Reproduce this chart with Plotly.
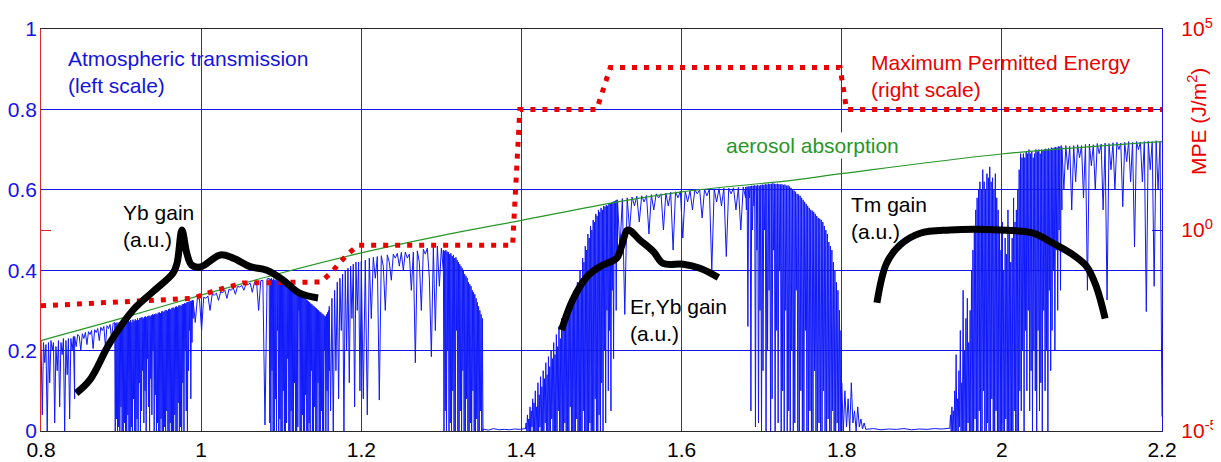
import numpy as np
import plotly.graph_objects as go

# ---------------- data ----------------
# Atmospheric transmission (left scale), band by band: (start wl, end wl, values)
T_a = [0.225,0.04,0.22,0.17,0.215,0.0,0.22,0.12,0.225,0.2,0.22,0.02,0.21,0.15,0.225,0.06,
       0.22,0.19,0.23,0.0,0.225,0.14,0.23,0.03,0.23,0.2,0.235,0.08]
T_b = [0.235,0.21,0.24,0.236,0.2,0.242,0.23,0.245,0.215,0.247,0.24,0.25,0.205,0.252,0.245,
       0.255,0.225,0.258,0.25,0.26,0.21,0.262,0.255,0.265,0.23,0.268,0.27]
T_c = [0.27,0.0,0.268,0.03,0.27,0.0,0.266,0.01,0.271,0.0,0.262,0.06,0.272,0.0,0.27,0.0,0.273,0.02,0.268,0.0,
       0.274,0.0,0.27,0.04,0.275,0.0,0.272,0.0,0.276,0.01,0.27,0.0,0.277,0.08,0.274,0.0,0.278,0.0,0.275,0.03,
       0.28,0.0,0.276,0.12,0.281,0.0,0.282,0.05,0.283,0.15,0.28,0.02,0.284,0.1,0.285,0.0,0.283,0.18,0.286,0.06,
       0.287,0.0,0.285,0.13,0.288,0.04,0.29,0.2,0.289,0.0,0.291,0.09,0.292,0.0,0.29,0.02,0.294,0.0,0.295,0.0,
       0.293,0.03,0.297,0.0,0.298,0.0,0.296,0.01,0.3,0.0,0.301,0.05,0.299,0.0,0.303,0.0,0.304,0.02,0.302,0.0,
       0.306,0.0,0.307,0.0,0.305,0.04,0.309,0.0,0.31,0.0,0.308,0.07,0.312,0.0,0.313,0.01,0.311,0.0,0.315,0.12,
       0.316,0.0,0.318,0.2,0.317,0.05,0.32,0.0,0.321,0.15,0.322,0.25,0.323,0.08,0.324,0.22,0.325,0.28]
T_d = [0.325,0.27,0.33,0.328,0.25,0.333,0.33,0.336,0.3,0.34,0.338,0.343,0.325,0.346,0.344,0.35,
       0.33,0.353,0.35,0.356,0.34,0.36,0.358,0.362,0.35,0.366,0.364,0.368,0.345,0.37,0.372,0.3,
       0.374,0.375,0.015,0.378,0.38]
T_e = [0.38,0.02,0.378,0.0,0.38,0.15,0.376,0.0,0.379,0.0,0.375,0.08,0.377,0.0,0.374,0.25,0.376,0.0,0.372,0.03,
       0.374,0.0,0.37,0.0,0.372,0.1,0.368,0.0,0.37,0.0,0.366,0.02,0.367,0.18,0.362,0.0,0.364,0.0,0.36,0.05,
       0.358,0.0,0.355,0.0,0.356,0.12,0.352,0.0,0.35,0.0,0.347,0.01,0.345,0.3,0.342,0.0,0.34,0.0,0.337,0.04,
       0.335,0.0,0.332,0.0,0.33,0.09,0.327,0.0,0.325,0.0,0.322,0.02,0.32,0.0,0.317,0.15,0.315,0.0,0.312,0.0,
       0.31,0.06,0.307,0.0,0.305,0.0,0.302,0.12,0.3,0.0,0.297,0.0,0.295,0.05,0.292,0.0,0.29,0.0,0.287,0.2,
       0.285,0.0,0.29,0.1,0.295,0.0,0.3,0.15]
T_f = [0.31,0.05,0.33,0.0,0.35,0.15,0.37,0.08,0.38,0.25,0.39,0.0,0.4,0.2,0.405,0.12,0.41,0.28,
       0.415,0.06,0.42,0.3,0.42,0.1,0.422]
T_g = [0.42,0.08,0.425,0.04,0.43,0.28,0.432,0.38,0.434,0.077,0.436,0.41,0.3,0.438,0.42,0.375,
       0.44,0.43,0.442,0.41,0.444,0.4,0.445,0.43,0.44,0.35,0.445,0.17,0.448,0.42,0.3,0.452,0.44,
       0.455,0.38,0.185,0.457,0.25,0.46,0.36,0.455,0.4]
T_h = [0.45,0.0,0.448,0.05,0.45,0.0,0.446,0.2,0.445,0.0,0.44,0.02,0.442,0.0,0.435,0.1,0.438,0.0,0.43,0.0,
       0.432,0.25,0.425,0.0,0.42,0.0,0.415,0.05,0.41,0.0,0.405,0.15,0.4,0.0,0.39,0.0,0.385,0.08,0.38,0.0,
       0.37,0.0,0.365,0.02,0.36,0.0,0.35,0.1,0.345,0.0,0.34,0.0,0.33,0.03,0.32,0.0,0.31,0.0,0.3,0.05,
       0.29,0.0,0.28,0.0]
T_i = [0.005,0.002,0.006,0.003,0.004,0.003,0.005,0.004,0.006]
T_j = [0.005,0.02,0.0,0.04,0.0,0.03,0.0,0.06,0.0,0.05,0.01,0.08,0.0,0.07,0.0,0.1,0.0,0.06,0.0,0.12,
       0.0,0.09,0.01,0.135,0.0,0.11,0.0,0.15,0.0,0.13,0.02,0.17,0.0,0.14,0.0,0.185,0.0,0.16,0.0,0.2,
       0.03,0.18,0.0,0.22,0.0,0.19,0.0,0.24,0.0,0.21,0.05,0.26,0.0,0.23,0.0,0.28,0.0,0.25,0.0,0.29,
       0.02,0.27,0.0,0.31,0.0,0.28,0.0,0.32,0.06,0.3,0.0,0.33,0.0,0.31,0.0,0.35,0.0,0.34,0.03,0.37,
       0.0,0.36,0.0,0.4,0.0,0.38,0.0,0.43,0.05,0.42,0.0,0.46,0.0,0.45,0.0,0.49,0.0,0.48,0.02,0.51,
       0.0,0.5,0.0,0.525,0.0,0.52,0.08,0.54,0.0,0.535,0.0,0.55,0.04,0.545,0.0,0.555,0.12,0.55,0.0,0.56,
       0.2,0.558,0.02,0.562,0.3,0.56,0.1,0.565,0.25,0.567,0.05,0.568,0.35,0.57,0.18,0.572,0.42,0.573,0.3,0.575,0.45]
T_k = [0.575,0.45,0.578,0.29,0.58,0.5,0.582,0.56,0.584,0.52,0.585,0.57,0.586,0.49,0.588,0.55,
       0.59,0.58,0.59,0.5,0.592,0.56,0.594,0.45,0.595,0.58,0.596,0.48,0.597,0.57,0.598,0.55,0.6,
       0.59,0.6,0.53,0.601,0.585,0.602,0.4,0.602,0.57,0.603,0.56,0.604,0.434,0.604,0.59,0.605,
       0.55,0.606,0.5,0.607,0.58]
T_l = [0.607,0.55,0.608,0.26,0.608,0.58,0.609,0.05,0.61,0.5,0.61,0.56,0.611,0.01,0.61,0.45,0.612,0.02,0.61,
       0.3,0.612,0.0,0.613,0.15,0.612,0.5,0.614,0.0,0.613,0.2,0.615,0.35,0.614,0.0,0.615,0.08,0.616,0.45,0.615,
       0.0,0.614,0.25,0.615,0.02,0.614,0.4,0.613,0.0,0.614,0.1,0.612,0.0,0.613,0.3,0.61,0.0,0.611,0.05,0.608,
       0.0,0.605,0.2,0.6,0.0,0.598,0.02,0.595,0.35,0.59,0.0,0.588,0.0,0.585,0.1,0.58,0.0,0.575,0.0,0.57,
       0.25,0.565,0.0,0.56,0.0,0.555,0.05,0.55,0.0,0.548,0.0,0.545,0.15,0.54,0.0,0.535,0.0,0.53,0.02,0.528,
       0.0,0.525,0.0,0.52,0.1,0.51,0.0,0.5,0.0,0.49,0.03,0.47,0.0,0.46,0.0,0.45,0.05,0.42,0.0,0.4,
       0.0,0.37,0.02,0.35,0.0,0.3,0.0,0.25,0.0]
T_m = [0.12,0.0,0.1,0.01,0.08,0.0,0.12,0.02,0.05,0.0,0.06,0.01,0.03,0.005,0.02,0.004]
T_n = [0.004,0.006,0.003,0.005,0.004,0.006,0.003,0.005,0.004,0.006,0.005,0.007]
T_o = [0.01,0.04,0.0,0.06,0.0,0.05,0.0,0.1,0.0,0.19,0.0,0.08,0.0,0.15,0.01,0.25,0.0,0.12,0.0,0.35,
       0.0,0.2,0.0,0.28,0.0,0.33,0.02,0.22,0.0,0.3,0.0,0.4,0.0,0.45,0.0,0.5,0.03,0.55,0.0,0.58,
       0.0,0.6,0.05,0.62,0.0,0.6,0.0,0.65,0.1,0.62,0.0,0.6,0.0,0.64,0.02,0.63,0.0,0.657,0.0,0.62,
       0.08,0.63,0.0,0.6,0.0,0.64,0.05,0.58,0.0,0.55,0.0,0.5,0.0,0.45,0.02,0.52,0.0,0.4,0.0,0.48,
       0.03,0.44,0.0,0.55,0.0,0.5,0.0,0.42,0.0,0.48,0.0,0.58,0.05,0.52,0.0,0.55,0.0,0.6,0.0,0.65,
       0.1,0.69,0.05,0.68,0.2,0.69,0.0,0.68,0.25,0.695,0.1,0.69,0.3,0.7,0.05,0.69,0.15,0.695,0.0,0.68,
       0.2,0.69,0.1,0.7,0.0,0.695,0.25,0.7,0.05,0.69,0.12,0.7,0.0,0.698,0.3,0.7,0.1,0.702,0.2,0.7,
       0.0,0.703,0.35,0.7,0.15,0.705,0.25,0.703,0.4,0.705,0.2,0.706,0.45,0.705,0.3,0.708,0.5,0.707,0.35,0.71,0.55]
T_p = [0.705,0.6,0.71,0.65,0.708,0.55,0.71,0.62,0.712,0.68,0.71,0.58,0.713,0.35,0.714,0.66,
       0.712,0.6,0.715,0.69,0.714,0.55,0.716,0.326,0.715,0.65,0.717,0.6,0.718,0.7,0.716,0.558,
       0.718,0.67,0.72,0.62,0.718,0.458,0.72,0.7,0.719,0.62,0.72,0.297,0.721,0.65,0.72,0.36,
       0.722,0.6,0.72,0.036]
BANDS = [(0.800, 0.842, T_a), (0.842, 0.892, T_b), (0.892, 0.990, T_c), (0.990, 1.085, T_d),
         (1.085, 1.160, T_e), (1.160, 1.200, T_f), (1.200, 1.3025, T_g), (1.3025, 1.352, T_h),
         (1.352, 1.405, T_i), (1.405, 1.520, T_j), (1.520, 1.680, T_k), (1.680, 1.800, T_l),
         (1.800, 1.830, T_m), (1.830, 1.935, T_n), (1.935, 2.075, T_o), (2.075, 2.200, T_p)]

# Aerosol absorption (left scale)
aer_wl = [0.8, 0.9, 1.0, 1.1, 1.2, 1.3, 1.4, 1.52, 1.6, 1.74, 1.8, 2.0, 2.2]
aer_T = [0.225, 0.28, 0.338, 0.393, 0.443, 0.486, 0.524, 0.57, 0.595, 0.624, 0.64, 0.689, 0.72]

# Maximum permitted energy (right scale, J/m^2)
mpe_wl = [0.8, 0.99, 1.015, 1.052, 1.15, 1.163, 1.182, 1.196, 1.389, 1.398, 1.494, 1.511, 1.798, 1.806, 2.2]
mpe_val = [0.013, 0.02, 0.03, 0.048, 0.051, 0.09, 0.24, 0.42, 0.42, 1000, 1000, 11000, 11000, 1000, 1000]

# Gain curves (a.u., left scale)
yb_wl = [0.844, 0.861, 0.886, 0.915, 0.94, 0.965, 0.97, 0.976, 0.982, 0.988, 0.999, 1.024, 1.04,
         1.061, 1.082, 1.102, 1.123, 1.146]
yb_g = [0.094, 0.127, 0.219, 0.301, 0.347, 0.393, 0.418, 0.5, 0.443, 0.413, 0.408, 0.438, 0.43,
        0.409, 0.40, 0.376, 0.343, 0.331]
eryb_wl = [1.45, 1.464, 1.482, 1.498, 1.519, 1.525, 1.533, 1.548, 1.565, 1.577, 1.602, 1.623, 1.646]
eryb_g = [0.251, 0.326, 0.384, 0.409, 0.43, 0.459, 0.5, 0.475, 0.446, 0.417, 0.415, 0.405, 0.382]
tm_wl = [1.844, 1.856, 1.873, 1.898, 1.935, 1.998, 2.039, 2.064, 2.089, 2.106, 2.118, 2.129]
tm_g = [0.319, 0.417, 0.463, 0.492, 0.5, 0.5, 0.492, 0.467, 0.438, 0.409, 0.359, 0.28]

x_ticks = [0.8, 1.0, 1.2, 1.4, 1.6, 1.8, 2.0, 2.2]
x_ticktext = ["0.8", "1", "1.2", "1.4", "1.6", "1.8", "2", "2.2"]
yl_ticks = [0, 0.2, 0.4, 0.6, 0.8, 1.0]
yl_ticktext = ["0", "0.2", "0.4", "0.6", "0.8", "1"]
yr_ticks = [1e-5, 1, 1e5]
yr_ticktext = ["10<sup>-5</sup>", "10<sup>0</sup>", "10<sup>5</sup>"]

# ---------------- figure ----------------
wl = np.concatenate([np.linspace(a, b, len(v)) for a, b, v in BANDS])
tr = np.concatenate([np.array(v, dtype=float) for a, b, v in BANDS])

FONT = "Liberation Sans, Arial, Helvetica, sans-serif"
BLUE = "rgb(20,20,235)"
RED = "rgb(235,0,0)"
GREEN = "rgb(40,150,40)"

fig = go.Figure()
fig.add_trace(go.Scatter(x=wl, y=tr, mode="lines", line=dict(color="rgb(15,25,250)", width=1),
                         yaxis="y", showlegend=False, hoverinfo="skip"))
fig.add_trace(go.Scatter(x=aer_wl, y=aer_T, mode="lines", line=dict(color=GREEN, width=1.2),
                         line_shape="spline", yaxis="y", showlegend=False))
fig.add_trace(go.Scatter(x=mpe_wl, y=mpe_val, mode="lines",
                         line=dict(color=RED, width=5, dash="5px,7px"),
                         yaxis="y2", showlegend=False))
for gx, gy in [(yb_wl, yb_g), (eryb_wl, eryb_g), (tm_wl, tm_g)]:
    fig.add_trace(go.Scatter(x=gx, y=gy, mode="lines", line=dict(color="black", width=7),
                             line_shape="spline", yaxis="y3", showlegend=False))

def ann(text, x, y, color, xanchor="left", bg=None):
    d = dict(text=text, x=x, y=y, xref="x", yref="y", showarrow=False, xanchor=xanchor,
             yanchor="middle", align="left", font=dict(family=FONT, size=21, color=color))
    if bg:
        d["bgcolor"] = bg
    return d

annotations = [
    ann("Atmospheric transmission<br>(left scale)", 0.8315, 0.893, "rgb(20,20,220)"),
    ann("Maximum Permitted Energy<br>(right scale)", 1.8335, 0.883, RED),
    ann("aerosol absorption", 1.6525, 0.711, GREEN, bg="white"),
    ann("Yb gain<br>(a.u.)", 0.9005, 0.51, "black"),
    ann("Er,Yb gain<br>(a.u.)", 1.5336, 0.277, "black"),
    ann("Tm gain<br>(a.u.)", 1.8085, 0.53, "black"),
    dict(text="MPE (J/m<sup>2</sup>)", x=1.0312, y=0.771, xref="paper", yref="paper",
         showarrow=False, textangle=-90, xanchor="center", yanchor="middle",
         font=dict(family=FONT, size=21, color=RED)),
]

# the page body adds an 8 px margin, so the figure is 8 px smaller on each side
fig.update_layout(
    width=1213, height=454, autosize=False,
    margin=dict(l=33, r=59, t=21, b=31, autoexpand=False),
    paper_bgcolor="white", plot_bgcolor="white",
    font=dict(family=FONT, size=21),
    annotations=annotations,
    xaxis=dict(range=[0.8, 2.2], tickvals=x_ticks, ticktext=x_ticktext, automargin=False,
               showgrid=True, gridcolor="rgb(60,60,60)", gridwidth=1, zeroline=False,
               showline=True, linecolor="rgb(40,40,40)", linewidth=1.3, mirror=True,
               ticks="", ticklabelstandoff=0, tickfont=dict(color="black", size=21)),
    yaxis=dict(range=[0, 1], tickvals=yl_ticks, ticktext=yl_ticktext, automargin=False,
               showgrid=True, gridcolor=BLUE, gridwidth=1, zeroline=False,
               showline=False, ticks="", ticklabelstandoff=3,
               tickfont=dict(color=BLUE, size=21)),
    yaxis2=dict(type="log", range=[-5, 5], overlaying="y", side="right", anchor="x",
                automargin=False,
                tickvals=yr_ticks, ticktext=yr_ticktext, showgrid=False, zeroline=False,
                showline=True, linecolor=BLUE, linewidth=1.3, ticks="inside", ticklen=10,
                tickcolor=BLUE, ticklabelstandoff=14, tickfont=dict(color=RED, size=21)),
    yaxis3=dict(range=[0, 1], overlaying="y", side="left", anchor="x", automargin=False,
                tickvals=[0.5], showticklabels=False, showgrid=False, zeroline=False,
                showline=True, linecolor="rgb(220,40,40)", linewidth=1.3,
                ticks="inside", ticklen=10, tickcolor="rgb(220,40,40)"),
)

fig.write_html("out.html")
